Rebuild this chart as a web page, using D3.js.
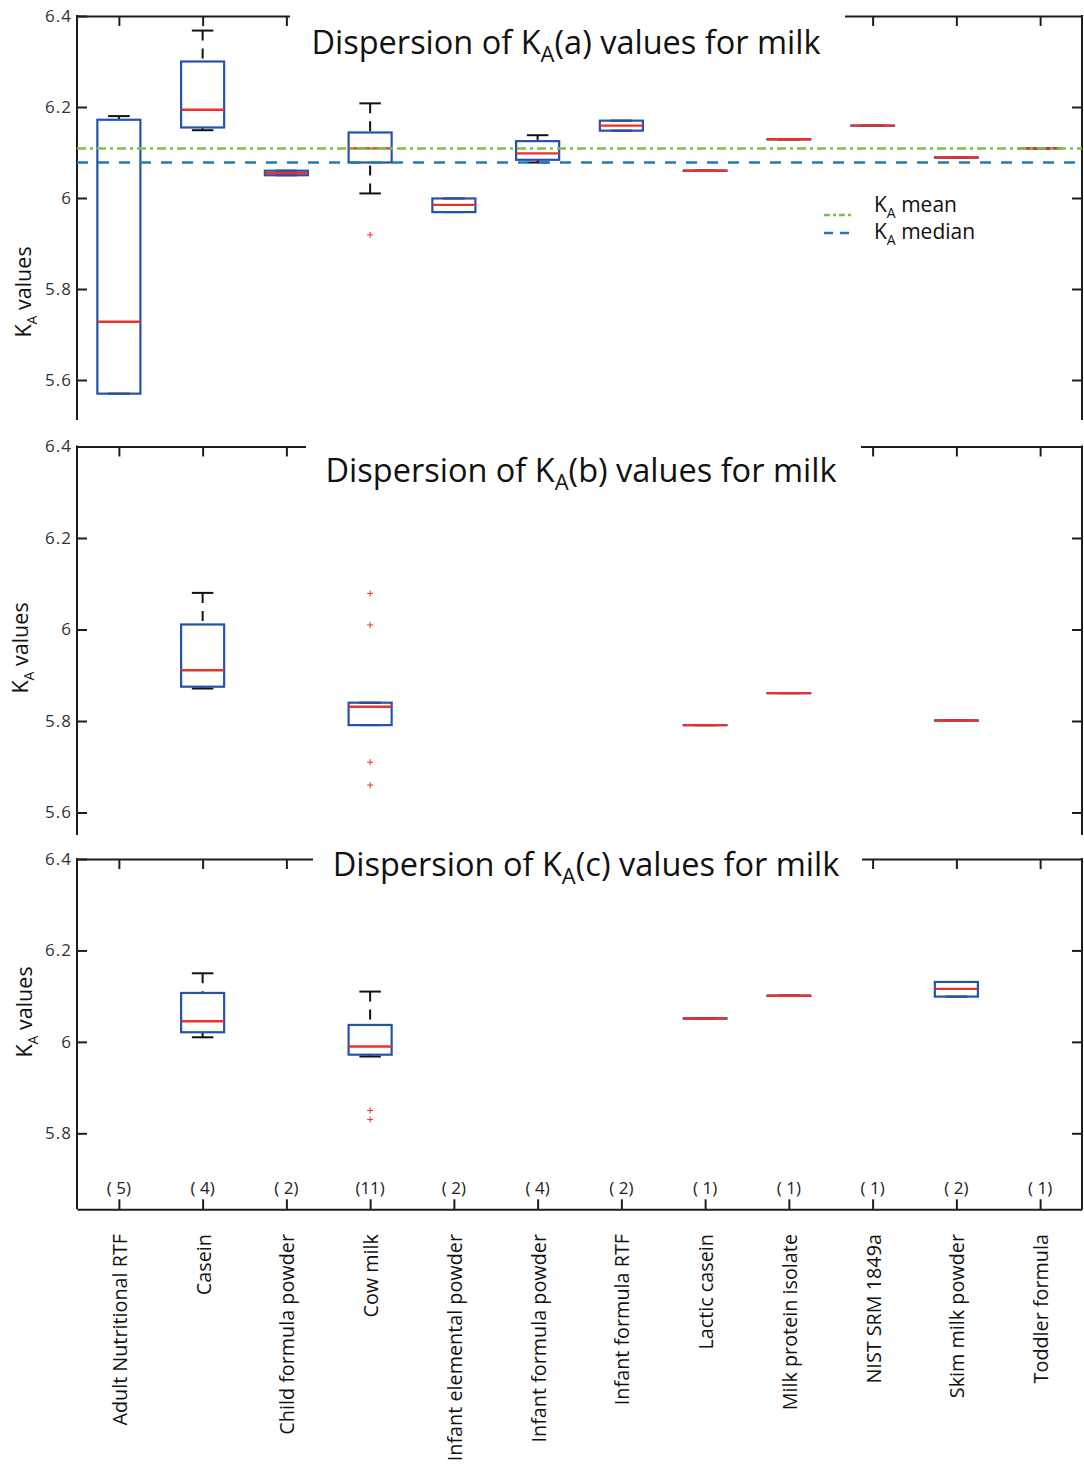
<!DOCTYPE html>
<html>
<head>
<meta charset="utf-8">
<script src="https://cdn.jsdelivr.net/npm/d3@7"></script>
<style>
  body { margin: 0; background: #fff; }
  text { font-family: "Open Sans", sans-serif; }
</style>
</head>
<body>
<svg id="chart" width="1084" height="1468"></svg>
<script>
'use strict';

// categorias del eje x y numero de muestras
const categories = ["Adult Nutritional RTF", "Casein", "Child formula powder", "Cow milk",
  "Infant elemental powder", "Infant formula powder", "Infant formula RTF", "Lactic casein",
  "Milk protein isolate", "NIST SRM 1849a", "Skim milk powder", "Toddler formula"];
const counts = [5, 4, 2, 11, 2, 4, 2, 1, 1, 1, 2, 1];

// [bigote inf, q1, mediana, q3, bigote sup] por categoria (null = sin datos)
const boxesA = [
  [5.570, 5.570, 5.728, 6.172, 6.180],
  [6.149, 6.155, 6.194, 6.300, 6.368],
  [6.050, 6.050, 6.055, 6.060, 6.060],
  [6.010, 6.078, 6.109, 6.144, 6.208],
  [5.969, 5.969, 5.985, 5.999, 5.999],
  [6.078, 6.084, 6.098, 6.125, 6.138],
  [6.148, 6.148, 6.159, 6.170, 6.170],
  [6.060, 6.060, 6.060, 6.060, 6.060],
  [6.129, 6.129, 6.129, 6.129, 6.129],
  [6.159, 6.159, 6.159, 6.159, 6.159],
  [6.089, 6.089, 6.089, 6.089, 6.089],
  [6.109, 6.109, 6.109, 6.109, 6.109]
];
const outliersA = [[], [], [], [5.919], [], [], [], [], [], [], [], []];
const meanA = 6.109;
const medianA = 6.078;

const boxesB = [
  null,
  [5.871, 5.875, 5.911, 6.011, 6.080],
  null,
  [5.791, 5.791, 5.831, 5.840, 5.840],
  null, null, null,
  [5.791, 5.791, 5.791, 5.791, 5.791],
  [5.861, 5.861, 5.861, 5.861, 5.861],
  null,
  [5.801, 5.801, 5.801, 5.801, 5.801],
  null
];
const outliersB = [[], [], [], [6.079, 6.010, 5.710, 5.660], [], [], [], [], [], [], [], []];

const boxesC = [
  null,
  [6.010, 6.021, 6.045, 6.107, 6.150],
  null,
  [5.968, 5.972, 5.990, 6.037, 6.110],
  null, null, null,
  [6.051, 6.051, 6.051, 6.051, 6.051],
  [6.101, 6.101, 6.101, 6.101, 6.101],
  null,
  [6.099, 6.099, 6.116, 6.131, 6.131],
  null
];
const outliersC = [[], [], [], [5.850, 5.830], [], [], [], [], [], [], [], []];

const yTicksAB = [5.6, 5.8, 6, 6.2, 6.4];
const yTicksC = [5.8, 6, 6.2, 6.4];

// colores
const cBox = "#2452ad", cMed = "#e8322c", cAxis = "#1e1e1e";
const cMean = "#7cc243", cMedLine = "#2278be";

const svg = d3.select("#chart");
svg.append("rect").attr("width", 1084).attr("height", 1468).attr("fill", "#fff");

const left = 77, right = 1082;
const x = d3.scalePoint().domain(categories).range([left, right]).padding(0.5);
const hw = x.step() * 0.257;

const panels = [
  { letra: "a", boxes: boxesA, outliers: outliersA, ticks: yTicksAB, dom: [5.6, 6.4], rng: [380, 16],
    top: 16, bottom: 420, gap: [290, 845], titleX: 566, titleY: 54, labX: 31, labY: 292, ref: true },
  { letra: "b", boxes: boxesB, outliers: outliersB, ticks: yTicksAB, dom: [5.6, 6.4], rng: [812.5, 446.5],
    top: 446.5, bottom: 835, gap: [306, 861], titleX: 581, titleY: 482, labX: 28, labY: 648 },
  { letra: "c", boxes: boxesC, outliers: outliersC, ticks: yTicksC, dom: [5.8, 6.4], rng: [1133.3, 859],
    top: 859, bottom: 1209.3, gap: [313, 862], titleX: 586, titleY: 876, labX: 32, labY: 1012, xAxis: true }
];

function estiloEje(g) {
  g.selectAll("path.domain").attr("stroke", cAxis).attr("stroke-width", 2);
  g.selectAll(".tick line").attr("stroke", cAxis).attr("stroke-width", 2);
}

panels.forEach(function(p) {
  const y = d3.scaleLinear().domain(p.dom).range(p.rng);
  const g = svg.append("g");

  // ejes
  const ejeY = g.append("g").attr("transform", "translate(" + left + ",0)")
    .call(d3.axisLeft(y).tickValues(p.ticks).tickSize(-10).tickPadding(5).tickFormat(d => String(d)));
  ejeY.select(".domain").remove();
  ejeY.selectAll(".tick text").attr("font-size", 17).attr("fill", "#333").attr("letter-spacing", 1)
    .attr("font-family", "Liberation Sans, Arial, sans-serif");
  estiloEje(ejeY);

  const ejeD = g.append("g").attr("transform", "translate(" + right + ",0)")
    .call(d3.axisRight(y).tickValues(p.ticks.filter(t => t < 6.4)).tickSize(-10).tickFormat(""));
  ejeD.select(".domain").remove();
  estiloEje(ejeD);

  g.append("line").attr("x1", left).attr("x2", left).attr("y1", p.top - 1).attr("y2", p.bottom)
    .attr("stroke", cAxis).attr("stroke-width", 2);
  g.append("line").attr("x1", right).attr("x2", right).attr("y1", p.top - 1).attr("y2", p.bottom)
    .attr("stroke", cAxis).attr("stroke-width", 2);

  const ejeT = g.append("g").attr("transform", "translate(0," + p.top + ")")
    .call(d3.axisTop(x).tickSize(-10).tickSizeOuter(0).tickFormat(""));
  estiloEje(ejeT);

  if (p.xAxis) {
    const ejeX = g.append("g").attr("transform", "translate(0," + p.bottom + ")")
      .call(d3.axisBottom(x).tickSize(-10).tickSizeOuter(0).tickFormat(""));
    estiloEje(ejeX);
    g.selectAll("text.cuenta").data(categories).enter().append("text")
      .attr("class", "cuenta")
      .attr("x", d => x(d)).attr("y", p.bottom - 15)
      .attr("text-anchor", "middle")
      .attr("font-family", "Liberation Sans, Arial, sans-serif")
      .attr("font-size", 17).attr("fill", "#222")
      .text((d, i) => "(" + (counts[i] < 10 ? " " : "") + counts[i] + ")");
  }

  // cajas
  p.boxes.forEach(function(b, i) {
    if (!b) return;
    const cx = x(categories[i]);
    const [lo, q1, med, q3, hi] = b;
    const bg = g.append("g");
    if (hi > q3) {
      bg.append("line").attr("x1", cx).attr("x2", cx).attr("y1", y(hi)).attr("y2", y(q3))
        .attr("stroke", "#111").attr("stroke-width", 2).attr("stroke-dasharray", "10,8");
    }
    if (lo < q1) {
      bg.append("line").attr("x1", cx).attr("x2", cx).attr("y1", y(lo)).attr("y2", y(q1))
        .attr("stroke", "#111").attr("stroke-width", 2).attr("stroke-dasharray", "10,8");
    }
    [lo, hi].forEach(function(v) {
      bg.append("line").attr("x1", cx - hw / 2).attr("x2", cx + hw / 2).attr("y1", y(v)).attr("y2", y(v))
        .attr("stroke", "#111").attr("stroke-width", 2);
    });
    if (q3 > q1) {
      bg.append("rect").attr("x", cx - hw).attr("width", 2 * hw)
        .attr("y", y(q3)).attr("height", y(q1) - y(q3))
        .attr("fill", "none").attr("stroke", cBox).attr("stroke-width", 2.2);
    } else {
      bg.append("line").attr("x1", cx - hw - 1).attr("x2", cx + hw + 1).attr("y1", y(q1)).attr("y2", y(q1))
        .attr("stroke", cBox).attr("stroke-width", 2.4);
    }
    bg.append("line").attr("x1", cx - hw).attr("x2", cx + hw).attr("y1", y(med)).attr("y2", y(med))
      .attr("stroke", cMed).attr("stroke-width", 2.4);

    p.outliers[i].forEach(function(v) {
      bg.append("path").attr("transform", "translate(" + cx + "," + y(v) + ")")
        .attr("d", "M-3,0H3M0,-3V3").attr("stroke", cMed).attr("stroke-width", 1).attr("fill", "none");
    });
  });

  // lineas de referencia y leyenda
  if (p.ref) {
    g.append("line").attr("x1", left).attr("x2", right).attr("y1", y(meanA)).attr("y2", y(meanA))
      .attr("stroke", cMean).attr("stroke-width", 2.5).attr("stroke-dasharray", "9,4,3,4");
    g.append("line").attr("x1", left).attr("x2", right).attr("y1", y(medianA)).attr("y2", y(medianA))
      .attr("stroke", cMedLine).attr("stroke-width", 2.5).attr("stroke-dasharray", "11,10");

    const leyenda = [
      { nombre: " mean", color: cMean, dash: "6,3,3,3", ly: 215, ty: 212 },
      { nombre: " median", color: cMedLine, dash: "9,7", ly: 233, ty: 239 }
    ];
    leyenda.forEach(function(l) {
      g.append("line").attr("x1", 824).attr("x2", 852).attr("y1", l.ly).attr("y2", l.ly)
        .attr("stroke", l.color).attr("stroke-width", 2.5).attr("stroke-dasharray", l.dash);
      const t = g.append("text").attr("x", 874).attr("y", l.ty).attr("font-size", 21).attr("fill", "#111");
      t.append("tspan").text("K");
      t.append("tspan").attr("font-size", 14).attr("dy", 6).text("A");
      t.append("tspan").attr("dy", -6).text(l.nombre);
    });
  }

  // titulo sobre fondo blanco
  g.append("rect").attr("x", p.gap[0]).attr("y", p.top - 8).attr("width", p.gap[1] - p.gap[0]).attr("height", 22)
    .attr("fill", "#fff");
  const tt = g.append("text").attr("x", p.titleX).attr("y", p.titleY).attr("text-anchor", "middle")
    .attr("font-size", 32.5).attr("fill", "#111");
  tt.append("tspan").text("Dispersion of K");
  tt.append("tspan").attr("font-size", 22).attr("dy", 8).text("A");
  tt.append("tspan").attr("dy", -8).text("(" + p.letra + ") values for milk");

  // etiqueta del eje y
  const ly = g.append("text").attr("transform", "translate(" + p.labX + "," + p.labY + ") rotate(-90)")
    .attr("text-anchor", "middle").attr("font-size", 21.5).attr("fill", "#111");
  ly.append("tspan").text("K");
  ly.append("tspan").attr("font-size", 14).attr("dy", 6).text("A");
  ly.append("tspan").attr("dy", -6).text(" values");
});

// etiquetas de categorias
svg.selectAll("text.cat").data(categories).enter().append("text")
  .attr("class", "cat")
  .attr("transform", d => "translate(" + (x(d) + 8) + ",1234) rotate(-90)")
  .attr("text-anchor", "end")
  .attr("font-size", 19.8).attr("fill", "#111")
  .text(d => d);
</script>
</body>
</html>
